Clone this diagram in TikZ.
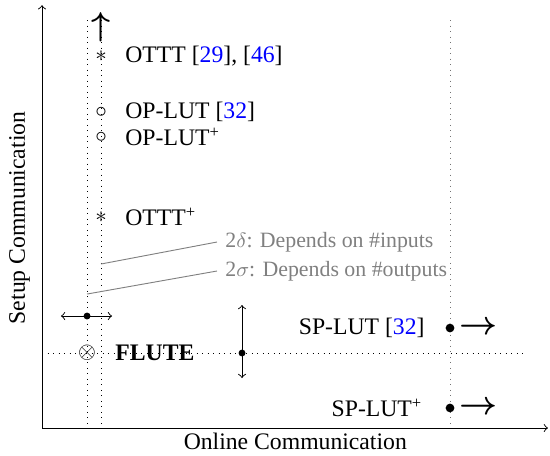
\documentclass[tikz,border=0pt]{standalone}
\usepackage{amsmath}
\usepackage{amssymb}
\usepackage{fontspec}
\setmainfont{Liberation Serif}
\usepackage{tikz}
\usetikzlibrary{arrows,positioning}

\newcommand{\refcite}[1]{[\textcolor{blue}{#1}]}

\begin{document}
\fontsize{10.3}{12.4}\selectfont
\begin{tikzpicture}[>=to,node distance=0.27cm,
  mark node/.style={inner sep=0pt},
  label node/.style={inner sep=0pt},
  note node/.style={text=gray,anchor=west,font=\fontsize{9.5}{11.4}\selectfont},
  dot node/.style={circle,fill=black,inner sep=0pt,minimum size=3.8pt},
  small dot/.style={circle,fill=black,inner sep=0pt,minimum size=3pt}]

  \useasboundingbox (-0.642,-0.413) rectangle (7.762,6.54);

  \coordinate (o) at (0,0);
  \coordinate (xend) at (7.73,0);
  \coordinate (yend) at (0,6.46);
  \draw[->] (o) -- (xend);
  \draw[->] (o) -- (yend);
  \node (xlab) at (3.87,-0.2) {Online Communication};
  \node[rotate=90] (ylab) at (-0.344,3.21) {Setup Communication};

  % guide lines
  \coordinate (g1top) at (0.688,6.234);
  \coordinate (g1bot) at (0.688,0);
  \coordinate (g2top) at (0.902,6.234);
  \coordinate (g2bot) at (0.902,0);
  \coordinate (g3top) at (6.234,6.234);
  \coordinate (g3bot) at (6.234,0);
  \coordinate (hl) at (0,1.146);
  \coordinate (hr) at (7.38,1.146);
  \draw[dotted] (g1top) -- (g1bot);
  \draw[dotted] (g2top) -- (g2bot);
  \draw[dotted,black!55] (g3top) -- (g3bot);
  \draw[dotted] (hl) -- (hr);

  % output-party lookups
  \node[mark node,font=\Large] (up) at (0.902,6.12) {$\boldsymbol{\uparrow}$};
  \node[mark node] (m1) at (0.902,5.684) {$\ast$};
  \node[mark node] (m2) at (0.902,4.828) {$\circ$};
  \node[mark node] (m3) at (0.902,4.446) {$\circ$};
  \node[mark node] (m4) at (0.902,3.224) {$\ast$};
  \node[label node] [right=of m1] (l1) {OTTT \refcite{29}, \refcite{46}};
  \node[label node] [right=of m2] (l2) {OP-LUT \refcite{32}};
  \node[label node] [right=of m3] (l3) {OP-LUT\textsuperscript{+}};
  \node[label node] [right=of m4] (l4) {OTTT\textsuperscript{+}};

  % notes
  \coordinate (d1) at (0.902,2.506);
  \coordinate (d2) at (0.688,2.047);
  \node[note node] (n1) at (2.674,2.842) {2$\delta$: Depends on \#inputs};
  \node[note node] (n2) at (2.674,2.399) {2$\sigma$: Depends on \#outputs};
  \draw[gray] (d1) -- (n1.west);
  \draw[gray] (d2) -- (n2.west);

  % FLUTE
  \node[mark node] (fl) at (0.688,1.146) {$\otimes$};
  \node[label node,font=\bfseries,anchor=west] (fltxt) at (1.115,1.146) {FLUTE};
  \node[small dot] (hd) at (0.688,1.711) {};
  \coordinate (hdl) at (0.29,1.711);
  \coordinate (hdr) at (1.07,1.711);
  \draw[<->] (hdl) -- (hdr);
  \node[small dot] (vd) at (3.056,1.146) {};
  \coordinate (vdt) at (3.056,1.879);
  \coordinate (vdb) at (3.056,0.764);
  \draw[<->] (vdt) -- (vdb);

  % shared lookups
  \node[dot node] (s1) at (6.234,1.528) {};
  \node[dot node] (s2) at (6.234,0.306) {};
  \node[label node,anchor=east] (sl1) at (5.852,1.528) {SP-LUT \refcite{32}};
  \node[label node,anchor=east] (sl2) at (5.82,0.306) {SP-LUT\textsuperscript{+}};
  \node[mark node,font=\Large] (r1) at (6.677,1.528) {$\boldsymbol{\rightarrow}$};
  \node[mark node,font=\Large] (r2) at (6.677,0.306) {$\boldsymbol{\rightarrow}$};
\end{tikzpicture}
\end{document}
